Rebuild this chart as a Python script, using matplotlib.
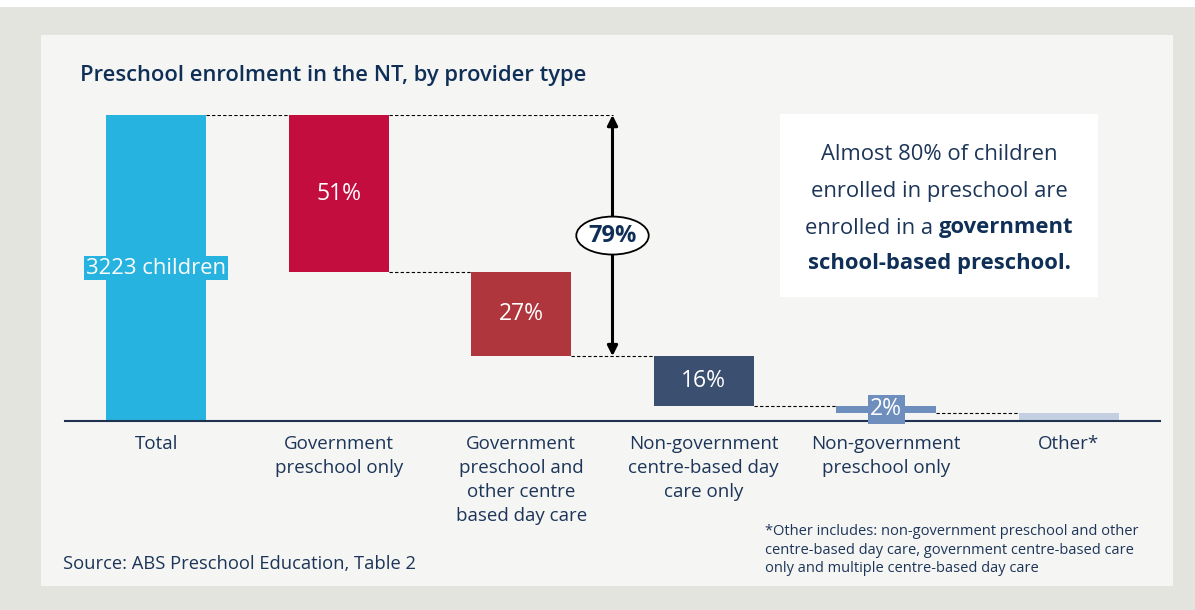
import matplotlib.pyplot as plt
from matplotlib.patches import Rectangle

W, H = 1195, 610

total_children = 3223
categories = [
    "Total",
    "Government\npreschool only",
    "Government\npreschool and\nother centre\nbased day care",
    "Non-government\ncentre-based day\ncare only",
    "Non-government\npreschool only",
    "Other*",
]
shares = [51.4, 27.4, 16.3, 2.2, 2.7]
colors = ["#27b3e0", "#c30d3e", "#b0363d", "#3b4f70", "#6e8fbe", "#c4d0e2"]

NAVY = "#0f2f57"
TEXT = "#1c3558"


def px(x, y):
    return x / W, 1 - y / H


def main():
    plt.rcParams["font.family"] = ["Open Sans", "DejaVu Sans"]

    fig = plt.figure(figsize=(W / 100, H / 100), dpi=100)
    fig.patch.set_facecolor("white")

    # outer frame and inner panel
    fig.patches.append(Rectangle(px(0, 610), 1, (610 - 7) / H, transform=fig.transFigure,
                                 fc="#e4e4df", ec="none", zorder=-3))
    fig.patches.append(Rectangle(px(41, 586), (1173 - 41) / W, (586 - 35) / H,
                                 transform=fig.transFigure, fc="#f5f5f3", ec="none", zorder=-2))

    ax = fig.add_axes([65 / W, 1 - 421 / H, (1160 - 65) / W, (421 - 115) / H])
    ax.patch.set_alpha(0)
    ax.set_xlim(-0.5, 5.5)
    ax.set_ylim(0, 100)
    for s in ["top", "right", "left"]:
        ax.spines[s].set_visible(False)
    ax.spines["bottom"].set_color("#1f3350")
    ax.spines["bottom"].set_linewidth(1.5)
    ax.set_yticks([])
    ax.set_xticks(range(len(categories)))
    ax.set_xticklabels(categories, fontsize=13.5, color=TEXT, linespacing=1.42)
    ax.tick_params(axis="x", length=0, pad=10)

    bw = 0.548
    hw = bw / 2

    # waterfall bars
    ax.bar(0, 100, width=bw, color=colors[0], zorder=2)
    ax.text(0, 50, f"{total_children} children", ha="center", va="center", fontsize=15.8,
            color="white", zorder=3,
            bbox=dict(boxstyle="square,pad=0.08", fc=colors[0], ec="none"))

    level = 100.0
    levels = [level]
    for i, v in enumerate(shares[:-1], start=1):
        bottom = level - v
        ax.bar(i, v, bottom=bottom, width=bw, color=colors[i], zorder=2)
        if v >= 5:
            ax.text(i, bottom + v / 2, f"{v:.0f}%", ha="center", va="center",
                    fontsize=16.5, color="white", zorder=3)
        else:
            ax.text(i, bottom + v / 2, f"{v:.0f}%", ha="center", va="center",
                    fontsize=16.5, color="white", zorder=3,
                    bbox=dict(boxstyle="square,pad=0.1", fc=colors[i], ec="none"))
        level = bottom
        levels.append(level)
    ax.bar(5, shares[-1], width=bw, color=colors[5], zorder=2)

    # dashed connectors
    dash = dict(color="black", lw=0.8, linestyle=(0, (3, 2)), zorder=1)
    for i, lv in enumerate(levels):
        ax.plot([i + hw, i + 1 - hw], [lv, lv], **dash)
    ax.plot([1 + hw, 2.5], [100, 100], **dash)

    # bracket for the two government categories
    gov = shares[0] + shares[1]
    ax.annotate("", xy=(2.5, 100 - gov), xytext=(2.5, 100),
                arrowprops=dict(arrowstyle="<|-|>,head_length=0.6,head_width=0.3",
                                color="black", lw=2.2, shrinkA=0, shrinkB=0), zorder=4)
    ax.text(2.5, 100 - gov / 2, f"{gov:.0f}%", ha="center", va="center", fontsize=17,
            fontweight="bold", color=NAVY, zorder=5,
            bbox=dict(boxstyle="ellipse,pad=0.06", fc="white", ec="black", lw=1.3))

    # title and notes
    fig.text(*px(80, 75), "Preschool enrolment in the NT, by provider type", fontsize=15.8,
             fontweight="semibold", color=NAVY, ha="left", va="center")
    fig.text(*px(63, 564), "Source: ABS Preschool Education, Table 2", fontsize=13.2,
             color=TEXT, ha="left", va="center")
    fig.text(*px(765, 550),
             "*Other includes: non-government preschool and other\n"
             "centre-based day care, government centre-based care\n"
             "only and multiple centre-based day care",
             fontsize=10.5, color=TEXT, ha="left", va="center", linespacing=1.33)

    # callout box
    fig.patches.append(Rectangle(px(780, 297), (1098 - 780) / W, (297 - 114) / H,
                                 transform=fig.transFigure, fc="white", ec="none", zorder=-1))
    cx = 939
    fs = 15.8
    fig.text(*px(cx, 155), "Almost 80% of children", fontsize=fs, color=TEXT,
             ha="center", va="center")
    fig.text(*px(cx, 191), "enrolled in preschool are", fontsize=fs, color=TEXT,
             ha="center", va="center")
    fig.text(*px(cx, 264), "school-based preschool.", fontsize=fs, color=NAVY,
             fontweight="bold", ha="center", va="center")

    # mixed-weight line, centred by measuring both parts
    r = fig.canvas.get_renderer()
    t1 = fig.text(0, 1 - 228 / H, "enrolled in a ", fontsize=fs, color=TEXT,
                  ha="left", va="center")
    t2 = fig.text(0, 1 - 228 / H, "government", fontsize=fs, color=NAVY,
                  fontweight="bold", ha="left", va="center")
    w1 = t1.get_window_extent(r).width
    w2 = t2.get_window_extent(r).width
    x0 = cx - (w1 + w2) / 2
    t1.set_x(x0 / W)
    t2.set_x((x0 + w1) / W)

    fig.savefig("out.png", dpi=100)
    plt.close(fig)


if __name__ == "__main__":
    main()
